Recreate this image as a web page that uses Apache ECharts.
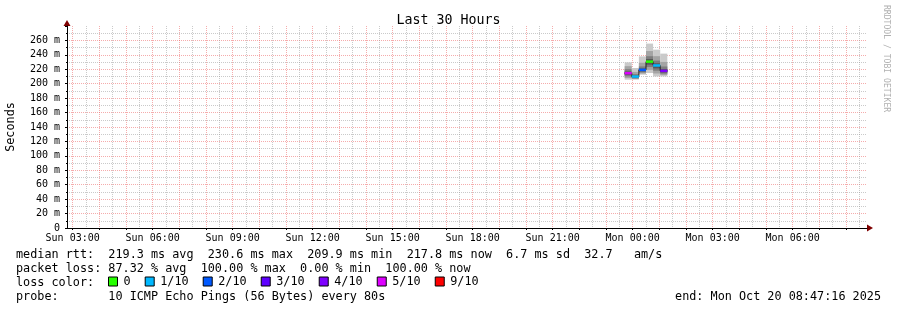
<!DOCTYPE html>
<html><head><meta charset="utf-8">
<script src="https://cdn.jsdelivr.net/npm/echarts@6/dist/echarts.min.js"></script>
<style>html,body{margin:0;padding:0;background:#fff}#c{width:897px;height:310px}</style>
</head><body><div id="c"></div>
<script>
// ---------- data ----------
const chartTitle = 'Last 30 Hours';
const yAxisName = 'Seconds';
const windowStart = 'Sun 02:47:16';
const windowEnd = 'Mon 08:47:16';
const xTickLabels = ['Sun 03:00','Sun 06:00','Sun 09:00','Sun 12:00','Sun 15:00','Sun 18:00','Sun 21:00','Mon 00:00','Mon 03:00','Mon 06:00'];
const yTickValues = [0,20,40,60,80,100,120,140,160,180,200,220,240,260];
const segStart = ['Sun 23:42','Sun 23:58','Mon 00:14','Mon 00:30','Mon 00:46','Mon 01:02'];
const segMinutes = 16;
const medianRtt = [214.6, 209.9, 219.2, 230.6, 225.3, 217.8];
const lossTenths = [5, 1, 2, 0, 1, 4];
const pingsSeg1 = [205.6, 208.0, 210.2, 212.3, 214.0, 215.2, 217.0, 220.1, 224.3, 229.6];
const pingsSeg2 = [205.6, 206.5, 207.4, 208.4, 209.4, 210.4, 211.5, 213.3, 216.4, 221.8];
const pingsSeg3 = [212.5, 214.1, 215.6, 217.1, 218.6, 219.8, 221.2, 224.0, 229.1, 237.9];
const pingsSeg4 = [214.9, 219.2, 223.1, 226.4, 229.6, 231.6, 234.2, 238.1, 245.3, 255.6];
const pingsSeg5 = [210.1, 214.2, 218.0, 221.3, 224.4, 226.2, 228.3, 232.0, 238.2, 247.2];
const pingsSeg6 = [210.1, 212.0, 213.9, 215.6, 217.1, 218.5, 220.4, 223.9, 230.2, 241.7];
const lossLabels = ['0','1/10','2/10','3/10','4/10','5/10','9/10'];
const lossLevels = [0, 1, 2, 3, 4, 5, 9];
const lossColors = ['#26ff00','#00b8ff','#0059ff','#5e00ff','#7e00ff','#dd00ff','#ff0000'];
const rttStats = ['219.3','230.6','209.9','217.8','6.7','32.7'];
const lossStats = ['87.32','100.00','0.00','100.00'];
const probeText = '10 ICMP Echo Pings (56 Bytes) every 80s';
const endText = 'Mon Oct 20 08:47:16 2025';
const creditText = 'RRDTOOL / TOBI OETIKER';

// ---------- helpers ----------
const FONT = 'DejaVu Sans Mono';
const LFS = 11.8;
const dayOffset = {Sun: 0, Mon: 24};
function toHours(s) {
  const [d, t] = s.split(' ');
  const p = t.split(':').map(Number);
  return dayOffset[d] + p[0] + p[1] / 60 + (p[2] || 0) / 3600;
}
const xMin = toHours(windowStart), xMax = toHours(windowEnd);
const xTickHours = xTickLabels.map(toHours);
const hourLines = [], halfLines = [];
for (let h = Math.ceil(xMin); h <= xMax; h++) hourLines.push(h);
for (let h = Math.ceil(xMin - 0.5) + 0.5; h <= xMax; h++) halfLines.push(h);

const allPings = [pingsSeg1, pingsSeg2, pingsSeg3, pingsSeg4, pingsSeg5, pingsSeg6];
const stepH = segMinutes / 60;
const segT0 = segStart.map(toHours);
const smokeData = segT0.map((t, i) => [t, t + stepH].concat(allPings[i]));
const smokeShades = ['#cacaca', '#a4a4a4', '#7e7e7e', '#585858', '#323232'];

const medianStep = segT0.map((t, i) => [t, medianRtt[i]]);
medianStep.push([segT0[segT0.length - 1] + stepH, medianRtt[medianRtt.length - 1]]);

function renderSmoke(params, api) {
  const t0 = api.value(0), t1 = api.value(1);
  const children = [];
  for (let i = 0; i < 5; i++) {
    const lo = api.value(2 + i), hi = api.value(11 - i);
    const a = api.coord([t0, hi]), b = api.coord([t1, lo]);
    children.push({type: 'rect', shape: {x: a[0], y: a[1], width: b[0] - a[0], height: b[1] - a[1]}, style: {fill: smokeShades[i]}});
  }
  return {type: 'group', children};
}
function renderMedian(params, api) {
  const a = api.coord([api.value(0), api.value(2)]);
  const b = api.coord([api.value(1), api.value(2)]);
  return {type: 'rect', shape: {x: a[0], y: a[1] - 1.25, width: b[0] - a[0], height: 2.5}, style: {fill: api.visual('color')}};
}

const medianSeries = lossLevels.map((lv, k) => ({
  type: 'custom', name: lossLabels[k], color: lossColors[k], itemStyle: {color: lossColors[k]},
  renderItem: renderMedian, z: 5,
  data: segT0.map((t, i) => [t, t + stepH, medianRtt[i], lossTenths[i]]).filter(d => d[3] === lv),
  encode: {x: [0, 1], y: 2}
}));

const MAJOR = 'rgba(235,90,90,0.5)';
const MINOR = 'rgba(150,150,150,0.5)';
const splitColors = [];
for (let v = 0; v <= 280; v += 20) splitColors.push(v < 280 ? MAJOR : 'rgba(0,0,0,0)');

const row1 = 'median rtt:  ' + rttStats[0] + ' ms avg  ' + rttStats[1] + ' ms max  ' + rttStats[2] + ' ms min  ' + rttStats[3] + ' ms now  ' + rttStats[4] + ' ms sd  ' + rttStats[5] + '   am/s';
const row2 = 'packet loss: ' + lossStats[0] + ' % avg  ' + lossStats[1] + ' % max  ' + lossStats[2] + ' % min  ' + lossStats[3] + ' % now';
const row3 = 'loss color:';
const row4 = 'probe:       ' + probeText;

function txt(x, y, s, align) {
  return {type: 'text', x, y, style: {text: s, fill: '#000', font: LFS + 'px "' + FONT + '"', textVerticalAlign: 'middle', textAlign: align || 'left'}};
}

const chart = echarts.init(document.getElementById('c'), null, {renderer: 'canvas'});
chart.setOption({
  animation: false,
  backgroundColor: '#ffffff',
  title: {text: chartTitle, left: 'center', top: 9, textStyle: {fontFamily: FONT, fontSize: 13.3, fontWeight: 'normal', color: '#000'}},
  grid: {left: 67, top: 26, width: 800, height: 202, containLabel: false, outerBoundsMode: 'none'},
  legend: {
    left: 108, top: 275.5, padding: 0, itemWidth: 9, itemHeight: 9, itemGap: 14.1, icon: 'rect',
    selectedMode: false, data: lossLabels,
    itemStyle: {borderColor: '#000', borderWidth: 1},
    textStyle: {fontFamily: FONT, fontSize: LFS, color: '#000', padding: [0, 0, 0, 1]}
  },
  xAxis: [{
    type: 'value', min: xMin, max: xMax, gridIndex: 0, position: 'bottom',
    axisLine: {show: true, onZero: false, lineStyle: {color: '#000', width: 1}},
    axisTick: {show: true, length: 2, customValues: hourLines, lineStyle: {color: '#000'}},
    axisLabel: {show: true, customValues: xTickHours, margin: 5, fontFamily: FONT, fontSize: 10, color: '#000',
      formatter: v => { const i = xTickHours.findIndex(h => Math.abs(h - v) < 1e-6); return i >= 0 ? xTickLabels[i] : ''; }},
    splitLine: {show: true, lineStyle: {color: MAJOR, type: [1, 1], width: 1}}
  }, {
    type: 'value', min: xMin, max: xMax, gridIndex: 0, position: 'bottom',
    axisLine: {show: false}, axisTick: {show: false, customValues: halfLines},
    axisLabel: {show: false},
    splitLine: {show: true, lineStyle: {color: MINOR, type: [1, 1], width: 1}}
  }],
  yAxis: {
    type: 'value', min: 0, max: 280, interval: 20,
    name: yAxisName, nameLocation: 'middle', nameGap: 50, nameRotate: 90,
    nameTextStyle: {fontFamily: FONT, fontSize: LFS, color: '#000'},
    axisLine: {show: true, lineStyle: {color: '#000', width: 1}},
    axisTick: {show: true, length: 2, lineStyle: {color: '#000'}},
    minorTick: {show: true, splitNumber: 2, length: 1, lineStyle: {color: '#000'}},
    axisLabel: {margin: 7, fontFamily: FONT, fontSize: 10, color: '#000', showMaxLabel: false,
      formatter: v => yTickValues.indexOf(v) < 0 ? '' : (v === 0 ? '0' : v + ' m')},
    splitLine: {show: true, lineStyle: {color: splitColors, type: [1, 1], width: 1}},
    minorSplitLine: {show: true, lineStyle: {color: MINOR, type: [1, 1], width: 1}}
  },
  series: [{
    type: 'custom', name: 'smoke', renderItem: renderSmoke, data: smokeData, z: 3,
    encode: {x: [0, 1], y: [2, 3, 4, 5, 6, 7, 8, 9, 10, 11]}
  }, {
    type: 'line', name: 'median', data: medianStep, step: 'end', showSymbol: false, symbol: 'none',
    lineStyle: {color: '#202020', width: 1}, z: 4
  }].concat(medianSeries),
  graphic: [
    txt(16, 254.5, row1), txt(16, 268.5, row2), txt(16, 282.5, row3), txt(16, 296.5, row4),
    txt(881, 296.5, 'end: ' + endText, 'right'),
    {type: 'text', x: 886, y: 5, rotation: -Math.PI / 2, style: {text: creditText, fill: '#b0b0b0', font: '8.1px "' + FONT + '"', textVerticalAlign: 'middle', textAlign: 'left'}},
    {type: 'polygon', shape: {points: [[63.5, 26], [70.5, 26], [67, 20]]}, style: {fill: '#7f0000'}},
    {type: 'polygon', shape: {points: [[867, 224.5], [867, 231.5], [873, 228]]}, style: {fill: '#7f0000'}}
  ]
});
</script></body></html>
